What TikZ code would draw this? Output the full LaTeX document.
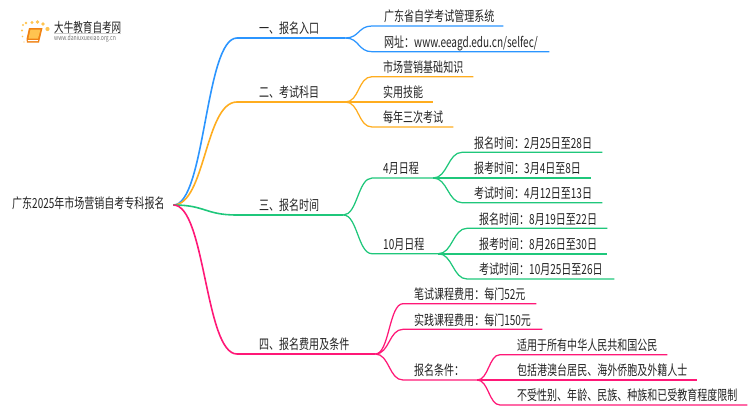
\documentclass[tikz,border=0pt]{standalone}
\usepackage{fontspec}
\setmainfont{Noto Sans CJK SC}[FakeStretch=0.72]
\usepackage{xcolor}
\usetikzlibrary{arrows.meta,positioning,calc}
\definecolor{mapblue}{RGB}{43,149,255}
\definecolor{maporange}{RGB}{255,173,31}
\definecolor{mapgreen}{RGB}{31,199,123}
\definecolor{mappink}{RGB}{255,24,119}
\definecolor{maptext}{RGB}{34,34,34}
\definecolor{bookdark}{RGB}{240,130,20}
\definecolor{booklight}{RGB}{255,196,80}

\begin{document}
\begin{tikzpicture}[x=1pt,y=-1pt,
item/.style={anchor=south west,inner xsep=0pt,inner ysep=1pt,text height=10pt,text depth=3pt,align=left,
font=\fontsize{13.9}{15}\selectfont,text=maptext},
main/.style={line width=1.6pt},
link/.style={line width=1.25pt},
flat/.style={line width=1.7pt}]
\useasboundingbox (0,0) rectangle (750,410);
\foreach \x/\y/\z in {23/25/1.1,26/23/1.4,32/22.5/1.7,37.5/22/1.9,43/24/1.9,47.5/29/2.1,22/30.5/1.1,22.5/36.5/0.9,24/42/0.7}
  \fill[booklight] (\x,\y) circle (\z);
\fill[bookdark] (29,28) -- (42.5,28) -- (39,42.5) -- (27,42.5) -- (26.5,39) -- cycle;
\fill[booklight] (30.5,29.5) -- (40.5,29.5) -- (38,38.5) -- (28.5,38.5) -- cycle;
\fill[white] (28,40) -- (38,40) -- (37.8,41) -- (27.8,41) -- cycle;
\node[anchor=west,inner sep=0pt,font=\fontsize{13.3}{15}\selectfont,text=maptext] (logoname) at (54,27) {大牛教育自考网};
\node[anchor=west,inner sep=0pt,font=\fontsize{7.1}{8}\selectfont,text=black!55] (logosite) at (54,38.6) {www.daniuxuexiao.org.cn};
\draw[black!20,thin] (logoname.south west) -- (logoname.south east);
\node[item,anchor=west,text width=161pt] (root) at (12,205) {广东2025年市场营销自考专科报名};
\foreach \n/\x/\y/\w/\p/\s in {b1/237/38/108/22/一、报名入口,b2/237/102/108/22/二、考试科目,
b3/237/215/106/22/三、报名时间,b4/237/354/138/22/四、报名费用及条件,
a1/372/26/131/12/广东省自学考试管理系统,a2/372/51.7/177/12/{网址：www.eeagd.edu.cn/selfec/},
c1/372/76.7/101/11/市场营销基础知识,c2/345/102/88/38/实用技能,c3/372/127/81/11/每年三次考试,
d1/372/178/61/11/4月日程,d2/372/253.7/66/11/10月日程,
e1/462/152.3/140/12/报名时间：2月25日至28日,e2/433/178/158/41/报考时间：3月4日至8日,e3/462/202.7/140/12/考试时间：4月12日至13日,
f1/467/228.3/140/12/报名时间：8月19日至22日,f2/438/253.7/169/41/报考时间：8月26日至30日,f3/467/279/147/12/考试时间：10月25日至26日,
g1/403/303.7/133/11/笔试课程费用：每门52元,g2/403/329.3/139/11/实践课程费用：每门150元,g3/403/380/74/11/报名条件：,
h1/500/354.7/167/17/适用于所有中华人民共和国公民,h2/477/380/220/40/包括港澳台居民、海外侨胞及外籍人士,h3/500/405/247/17/不受性别、年龄、民族、种族和已受教育程度限制}
  \node[item,text width=\w pt] (\n) at (\x,\y) {\hspace*{\p pt}\s};
\foreach \b/\z in {b1/mapblue,b2/maporange,b3/mapgreen,b4/mappink}
  \draw[main,\z] (root.east) .. controls +(32,0) and +(-32,0) .. (\b.south west) -- (\b.south east);
\foreach \a/\b/\d/\z in {b1/a1/14/mapblue,b1/a2/14/mapblue,b2/c1/14/maporange,b2/c3/14/maporange,
b3/d1/14/mapgreen,b3/d2/14/mapgreen,d1/e1/14/mapgreen,d1/e3/14/mapgreen,
d2/f1/14/mapgreen,d2/f3/14/mapgreen,
b4/g1/14/mappink,b4/g2/14/mappink,b4/g3/14/mappink,g3/h1/11/mappink,g3/h3/11/mappink}
  \draw[link,\z] (\a.south east) .. controls +(\d,0) and +(-\d,0) .. (\b.south west) -- (\b.south east);
\foreach \b/\z in {c2/maporange,e2/mapgreen,f2/mapgreen,h2/mappink}
  \draw[flat,\z] (\b.south west) -- (\b.south east);
\end{tikzpicture}
\end{document}
